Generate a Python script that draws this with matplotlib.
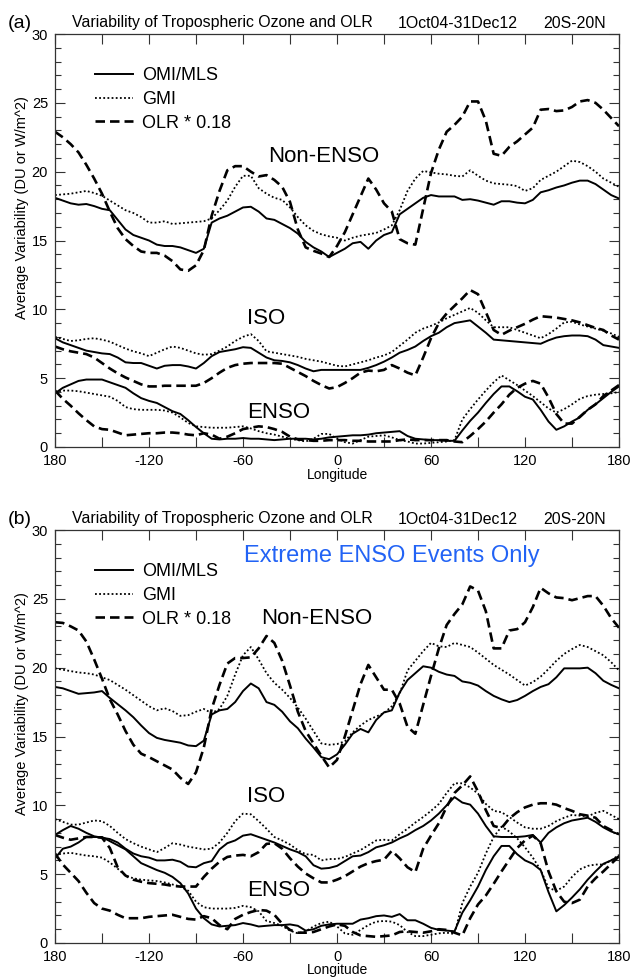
import matplotlib
matplotlib.use("Agg")
import matplotlib.pyplot as plt
import numpy as np

plt.rcParams['font.family'] = ['Liberation Sans', 'DejaVu Sans']

W, H = 635, 977
lon = np.arange(-180, 181, 5)

# ---------------- panel (a): all events ----------------
a_non_omi = [18.1, 17.9, 17.7, 17.6, 17.65, 17.5, 17.3, 17.2, 16.5, 15.8, 15.4, 15.2, 15.0, 14.7, 14.6,
             14.6, 14.5, 14.3, 14.1, 14.4, 16.3, 16.6, 16.8, 17.1, 17.4, 17.45, 17.1, 16.6, 16.5, 16.2,
             15.9, 15.5, 14.9, 14.5, 14.2, 13.8, 14.1, 14.4, 14.8, 14.9, 14.4, 15.0, 15.4, 15.6, 16.9,
             17.3, 17.7, 18.1, 18.3, 18.2, 18.2, 18.2, 17.95, 18.0, 17.9, 17.75, 17.6, 17.85, 17.85, 17.75,
             17.7, 17.95, 18.5, 18.65, 18.85, 19.0, 19.2, 19.35, 19.35, 19.1, 18.7, 18.3, 18.05]
a_non_gmi = [18.3, 18.35, 18.4, 18.5, 18.6, 18.45, 18.25, 17.9, 17.55, 17.2, 17.0, 16.7, 16.3, 16.3, 16.4,
             16.2, 16.25, 16.3, 16.35, 16.4, 16.6, 17.2, 17.9, 18.9, 19.7, 19.7, 18.8, 18.4, 18.1, 17.95,
             17.4, 16.7, 16.1, 15.7, 15.45, 15.3, 15.2, 15.0, 15.2, 15.35, 15.45, 15.55, 15.8, 16.1, 17.2,
             18.6, 19.5, 20.05, 19.95, 19.85, 19.8, 19.7, 19.65, 20.1, 19.7, 19.35, 19.15, 19.1, 19.05, 18.95,
             18.6, 18.8, 19.4, 19.7, 20.0, 20.4, 20.8, 20.7, 20.4, 20.0, 19.5, 19.2, 18.9]
a_non_olr = [22.9, 22.5, 22.0, 21.4, 20.5, 19.5, 18.4, 17.1, 15.9, 15.1, 14.6, 14.2, 14.1, 14.1, 13.9,
             13.5, 12.9, 12.8, 13.2, 14.3, 16.8, 18.6, 20.1, 20.4, 20.4, 20.0, 19.65, 19.75, 19.4, 18.9,
             17.8, 15.8, 14.5, 14.25, 14.05, 13.8, 14.6, 15.6, 16.9, 18.2, 19.5, 18.7, 17.7, 17.1, 15.1,
             14.8, 14.7, 17.3, 19.9, 21.6, 22.9, 23.4, 24.0, 25.1, 25.1, 23.7, 21.3, 21.15, 21.8, 22.2,
             22.7, 23.2, 24.5, 24.55, 24.4, 24.45, 24.7, 25.1, 25.2, 25.0, 24.5, 23.9, 23.3]

a_iso_omi = [7.9, 7.6, 7.4, 7.2, 7.0, 6.9, 6.8, 6.75, 6.5, 6.15, 6.1, 6.1, 5.9, 5.7, 5.9,
             5.95, 5.95, 5.85, 5.7, 6.1, 6.6, 6.9, 7.0, 7.1, 7.25, 7.2, 6.85, 6.5, 6.3, 6.25,
             6.15, 5.95, 5.7, 5.5, 5.6, 5.6, 5.6, 5.6, 5.6, 5.6, 5.75, 5.95, 6.2, 6.5, 6.85,
             7.05, 7.3, 7.7, 8.05, 8.3, 8.7, 9.0, 9.1, 9.2, 8.75, 8.3, 7.8, 7.75, 7.7, 7.65,
             7.6, 7.55, 7.5, 7.75, 7.95, 8.05, 8.1, 8.1, 8.05, 7.8, 7.4, 7.3, 7.2]
a_iso_gmi = [8.0, 7.85, 7.7, 7.75, 7.85, 7.9, 7.8, 7.65, 7.4, 7.15, 6.95, 6.8, 6.6, 6.85, 7.1,
             7.3, 7.2, 7.0, 6.8, 6.7, 6.75, 7.0, 7.3, 7.7, 8.0, 8.2, 7.7, 6.95, 6.85, 6.75,
             6.65, 6.55, 6.4, 6.3, 6.2, 6.05, 5.9, 5.85, 6.0, 6.15, 6.3, 6.5, 6.65, 6.9, 7.35,
             7.8, 8.3, 8.6, 8.8, 9.05, 9.35, 9.6, 9.85, 10.1, 9.75, 9.2, 8.7, 8.7, 8.7, 8.5,
             8.3, 8.1, 7.9, 8.2, 8.6, 9.05, 9.1, 8.9, 8.75, 8.6, 8.45, 8.25, 8.0]
a_iso_olr = [7.3, 7.1, 6.95, 6.85, 6.75, 6.5, 6.1, 5.7, 5.35, 5.05, 4.8, 4.55, 4.4, 4.4, 4.45,
             4.45, 4.45, 4.45, 4.45, 4.65, 5.0, 5.4, 5.75, 5.95, 6.05, 6.1, 6.1, 6.1, 6.1, 6.05,
             5.75, 5.45, 5.15, 4.8, 4.5, 4.25, 4.35, 4.65, 5.0, 5.4, 5.55, 5.5, 5.6, 5.95, 5.7,
             5.4, 5.2, 6.5, 7.9, 9.0, 9.7, 10.25, 10.8, 11.4, 11.1, 9.8, 8.5, 8.15, 8.45, 8.7,
             8.95, 9.25, 9.5, 9.45, 9.4, 9.3, 9.2, 9.05, 8.85, 8.65, 8.5, 8.1, 7.8]

a_enso_omi = [3.9, 4.3, 4.55, 4.8, 4.9, 4.9, 4.9, 4.7, 4.5, 4.3, 3.9, 3.55, 3.35, 3.2, 2.9,
              2.6, 2.4, 1.95, 1.45, 1.0, 0.6, 0.55, 0.6, 0.6, 0.65, 0.6, 0.6, 0.55, 0.5, 0.55,
              0.6, 0.6, 0.6, 0.55, 0.6, 0.7, 0.75, 0.8, 0.85, 0.85, 0.9, 1.0, 1.05, 1.1, 1.15,
              0.8, 0.6, 0.55, 0.5, 0.5, 0.45, 0.45, 1.2, 1.9, 2.5, 3.2, 3.85, 4.4, 4.4, 4.05,
              3.65, 3.45, 2.7, 1.85, 1.25, 1.5, 1.85, 2.15, 2.7, 3.1, 3.55, 4.0, 4.4]
a_enso_gmi = [4.0, 4.1, 4.1, 4.05, 3.95, 3.85, 3.75, 3.65, 3.35, 2.9, 2.75, 2.7, 2.7, 2.7, 2.65,
              2.5, 2.15, 1.75, 1.5, 1.45, 1.4, 1.4, 1.4, 1.45, 1.5, 1.35, 1.15, 1.0, 0.9, 0.75,
              0.6, 0.5, 0.4, 0.6, 0.95, 0.95, 0.6, 0.35, 0.25, 0.5, 0.75, 0.8, 0.85, 0.7, 0.5,
              0.4, 0.25, 0.25, 0.3, 0.35, 0.4, 0.5, 2.0, 2.75, 3.45, 4.1, 4.7, 5.2, 4.85, 4.5,
              4.1, 3.7, 3.25, 2.8, 2.5, 2.75, 3.1, 3.5, 3.7, 3.8, 3.85, 3.9, 4.0]
a_enso_olr = [4.1, 3.5, 3.0, 2.45, 1.95, 1.5, 1.3, 1.25, 1.05, 0.85, 0.9, 0.95, 1.0, 1.0, 1.05,
              1.05, 1.0, 0.9, 0.85, 1.0, 0.9, 0.6, 0.75, 1.0, 1.3, 1.4, 1.5, 1.45, 1.3, 1.1,
              0.75, 0.55, 0.5, 0.45, 0.45, 0.5, 0.5, 0.5, 0.45, 0.45, 0.4, 0.4, 0.4, 0.4, 0.5,
              0.55, 0.5, 0.5, 0.5, 0.5, 0.5, 0.4, 0.35, 0.8, 1.3, 1.85, 2.5, 3.1, 3.8, 4.3,
              4.6, 4.8, 4.6, 3.6, 2.4, 1.7, 1.7, 2.2, 2.7, 3.1, 3.7, 4.1, 4.5]

# ---------------- panel (b): extreme ENSO events only ----------------
b_non_omi = [18.6, 18.5, 18.3, 18.1, 18.15, 18.2, 18.3, 17.8, 17.35, 16.9, 16.4, 15.8, 15.25, 14.9, 14.75,
             14.65, 14.55, 14.35, 14.3, 14.7, 16.6, 16.9, 17.0, 17.5, 18.3, 18.85, 18.5, 17.5, 17.3, 16.8,
             16.1, 15.6, 14.85, 14.2, 13.5, 13.35, 13.7, 14.4, 15.2, 15.55, 15.3, 16.2, 16.75, 16.9, 18.2,
             19.1, 19.6, 20.1, 20.0, 19.7, 19.5, 19.4, 19.0, 18.9, 18.7, 18.3, 17.95, 17.7, 17.5, 17.65,
             17.95, 18.3, 18.6, 18.8, 19.3, 19.95, 19.95, 19.95, 20.0, 19.6, 19.05, 18.75, 18.5]
b_non_gmi = [19.95, 19.85, 19.75, 19.65, 19.6, 19.5, 19.3, 19.1, 18.75, 18.4, 18.0, 17.6, 17.2, 16.9, 17.05,
             16.85, 16.5, 16.55, 16.8, 17.0, 16.7, 17.0, 17.95, 19.5, 20.9, 21.5, 20.6, 19.6, 18.9, 18.4,
             17.8, 17.1, 16.3, 15.4, 14.5, 14.4, 14.45, 14.65, 15.3, 15.8, 16.2, 16.45, 16.7, 17.2, 18.1,
             19.8, 20.5, 21.2, 21.8, 21.55, 21.5, 21.8, 21.65, 21.5, 21.1, 20.65, 20.2, 19.85, 19.5, 19.1,
             18.7, 18.95, 19.35, 19.9, 20.5, 21.0, 21.35, 21.65, 21.5, 21.2, 20.9, 20.4, 19.8]
b_non_olr = [23.3, 23.25, 23.0, 22.7, 21.9, 20.6, 19.2, 17.7, 16.6, 15.4, 14.4, 13.75, 13.5, 13.2, 12.9,
             12.6, 12.0, 11.55, 12.4, 14.2, 17.0, 18.75, 20.3, 20.7, 20.7, 20.75, 21.4, 22.3, 21.8, 20.5,
             18.7, 16.8, 15.4, 14.5, 13.6, 12.75, 13.3, 15.0, 16.9, 18.8, 20.2, 19.3, 18.4, 18.4, 17.4,
             15.7, 15.2, 17.3, 19.4, 21.4, 23.1, 23.9, 24.6, 25.9, 25.6, 24.1, 21.4, 21.4, 22.7, 22.8,
             23.3, 24.4, 25.8, 25.4, 25.1, 25.05, 24.9, 25.05, 25.2, 25.2, 24.5, 23.6, 22.9]

b_iso_omi = [7.85, 8.2, 8.5, 8.3, 8.0, 7.75, 7.65, 7.55, 7.3, 6.85, 6.5, 6.3, 6.2, 6.0, 6.0,
             6.05, 5.9, 5.55, 5.5, 5.8, 5.95, 6.8, 7.25, 7.45, 7.8, 7.9, 7.7, 7.5, 7.3, 7.05,
             6.8, 6.6, 6.3, 5.65, 5.4, 5.45, 5.6, 5.95, 6.3, 6.35, 6.6, 6.95, 7.1, 7.3, 7.6,
             7.85, 8.2, 8.5, 8.9, 9.4, 10.0, 10.6, 10.2, 10.05, 9.4, 8.5, 7.75, 7.7, 7.7, 7.7,
             7.75, 7.85, 7.3, 8.0, 8.4, 8.7, 8.9, 9.0, 9.1, 8.8, 8.4, 8.1, 7.9]
b_iso_gmi = [9.0, 8.8, 8.6, 8.6, 8.75, 8.9, 8.85, 8.5, 8.0, 7.55, 7.25, 7.0, 6.8, 6.6, 6.9,
             7.25, 7.15, 7.0, 6.9, 6.8, 6.85, 7.3, 8.0, 8.85, 9.4, 9.35, 8.85, 8.3, 7.7, 7.45,
             7.15, 6.75, 6.45, 6.4, 6.0, 6.1, 6.1, 6.25, 6.5, 6.75, 7.1, 7.45, 7.5, 7.45, 7.9,
             8.3, 8.75, 9.15, 9.6, 10.1, 10.9, 11.6, 11.6, 11.3, 10.85, 10.1, 9.6, 9.5, 9.15, 8.75,
             8.4, 8.3, 8.3, 8.5, 8.85, 9.1, 9.3, 9.25, 9.2, 9.45, 9.6, 9.3, 9.0]
b_iso_olr = [7.85, 7.65, 7.5, 7.6, 7.7, 7.7, 7.65, 6.9, 5.5, 4.9, 4.6, 4.45, 4.35, 4.3, 4.25,
             4.15, 4.1, 4.1, 4.1, 4.8, 5.4, 5.9, 6.25, 6.35, 6.4, 6.3, 6.6, 7.2, 7.25, 6.85,
             6.15, 5.55, 5.05, 4.7, 4.4, 4.4, 4.6, 4.85, 5.2, 5.55, 5.8, 5.95, 6.05, 6.7, 6.15,
             5.5, 5.15, 6.85, 7.8, 8.7, 9.9, 10.9, 11.45, 12.1, 11.0, 9.65, 8.5, 8.35, 9.05, 9.5,
             9.85, 10.05, 10.15, 10.15, 10.05, 9.8, 9.6, 9.35, 9.25, 9.1, 8.5, 8.2, 7.9]

b_enso_omi = [6.15, 6.85, 7.0, 7.3, 7.7, 7.7, 7.7, 7.4, 7.1, 6.8, 6.3, 5.8, 5.55, 5.3, 5.1,
              4.8, 4.35, 3.6, 2.5, 1.8, 1.35, 1.2, 1.25, 1.3, 1.45, 1.35, 1.2, 1.25, 1.3, 1.3,
              1.35, 1.25, 0.9, 1.0, 1.25, 1.35, 1.4, 1.4, 1.4, 1.7, 1.8, 1.95, 2.0, 1.9, 2.1,
              1.65, 1.65, 1.4, 1.1, 0.95, 0.9, 0.85, 2.2, 3.1, 4.1, 5.3, 6.3, 7.05, 7.05, 6.45,
              6.0, 5.75, 5.3, 3.7, 2.3, 2.75, 3.3, 3.9, 4.6, 5.2, 5.75, 6.0, 6.3]
b_enso_gmi = [6.4, 6.5, 6.55, 6.45, 6.35, 6.3, 6.2, 5.85, 5.4, 4.9, 4.7, 4.6, 4.55, 4.5, 4.4,
              4.25, 4.1, 3.8, 3.0, 2.6, 2.5, 2.5, 2.5, 2.55, 2.7, 2.6, 2.3, 1.6, 1.45, 1.25,
              0.9, 0.7, 0.85, 1.2, 1.45, 1.55, 1.2, 0.7, 0.6, 0.95, 1.3, 1.55, 1.6, 1.55, 1.3,
              0.8, 0.5, 0.5, 0.6, 0.7, 0.75, 0.65, 2.9, 4.1, 5.1, 6.5, 7.7, 8.45, 8.1, 7.6,
              6.95, 6.2, 5.3, 4.0, 3.8, 4.1, 4.8, 5.35, 5.6, 5.7, 5.7, 6.0, 6.4]
b_enso_olr = [6.5, 5.7, 5.1, 4.5, 3.65, 2.9, 2.5, 2.35, 2.05, 1.8, 1.8, 1.8, 1.9, 1.95, 2.0,
              2.05, 1.9, 1.75, 1.7, 1.95, 1.8, 1.3, 1.0, 1.75, 2.05, 2.25, 2.4, 2.35, 2.05, 1.4,
              0.95, 0.75, 0.75, 0.8, 1.0, 1.2, 1.35, 1.25, 0.8, 0.55, 0.5, 0.45, 0.5, 0.55, 0.8,
              0.85, 0.8, 0.75, 0.85, 1.0, 0.95, 0.75, 0.55, 1.8, 2.8, 3.45, 4.3, 5.2, 6.05, 6.9,
              7.45, 7.8, 7.25, 5.2, 3.75, 3.0, 2.9, 3.15, 4.1, 4.7, 5.2, 5.75, 6.3]

series_names = ['OMI/MLS', 'GMI', 'OLR * 0.18']
xticks = np.arange(-180, 181, 30)
xlabels = ['180', '', '-120', '', '-60', '', '0', '', '60', '', '120', '', '180']

panels = [
    ('(a)', 447, [(a_non_omi, a_non_gmi, a_non_olr), (a_iso_omi, a_iso_gmi, a_iso_olr),
                  (a_enso_omi, a_enso_gmi, a_enso_olr)],
     [(268, 156), (247, 318), (247, 412)], False),
    ('(b)', 943, [(b_non_omi, b_non_gmi, b_non_olr), (b_iso_omi, b_iso_gmi, b_iso_olr),
                  (b_enso_omi, b_enso_gmi, b_enso_olr)],
     [(261, 619), (247, 797), (247, 891)], True),
]
cat_names = ['Non-ENSO', 'ISO', 'ENSO']

styles = [dict(color='black', lw=1.4, ls='-'),
          dict(color='black', lw=1.3, ls=(0, (1, 1.3))),
          dict(color='black', lw=1.9, ls=(0, (3.6, 1.9)))]

fig = plt.figure(figsize=(W / 100, H / 100), dpi=100)


def fx(px):
    return px / W


def fy(py):
    return 1 - py / H


for tag, bottom, groups, label_pos, extreme in panels:
    ax = fig.add_axes([fx(55), fy(bottom), fx(564), 413 / H])
    for grp in groups:
        for vals, st, name in zip(grp, styles, series_names):
            ax.plot(lon, vals, **st, label=name)
    ax.set_xlim(-180, 180)
    ax.set_ylim(0, 30)
    ax.set_xticks(xticks)
    ax.set_xticklabels(xlabels)
    ax.set_yticks(np.arange(0, 31, 5))
    ax.set_yticks(np.arange(0, 31, 1), minor=True)
    ax.tick_params(axis='both', which='major', direction='in', top=True, right=True,
                   length=7, width=0.8, labelsize=10.5, color='#333333')
    ax.tick_params(axis='x', which='major', pad=5)
    ax.tick_params(axis='y', which='major', pad=5)
    ax.tick_params(axis='y', which='minor', direction='in', right=True, length=4, width=0.8,
                   color='#333333')
    for sp in ax.spines.values():
        sp.set_linewidth(0.9)
        sp.set_color('#333333')

    handles = ax.get_lines()[:3]
    ax.legend(handles, series_names, loc='upper left', bbox_to_anchor=(40 / 564, 0.92),
              frameon=False, fontsize=13, handlelength=2.1, handletextpad=0.5,
              labelspacing=0.38, borderpad=0, borderaxespad=0)

    for name, (px, py) in zip(cat_names, label_pos):
        fig.text(fx(px), fy(py), name, fontsize=16, ha='left', va='center')

    top = bottom - 413
    fig.text(fx(8), fy(top - 11), tag, fontsize=14, ha='left', va='center')
    fig.text(fx(72), fy(top - 11), 'Variability of Tropospheric Ozone and OLR', fontsize=11.4,
             ha='left', va='center')
    fig.text(fx(398), fy(top - 11), '1Oct04-31Dec12', fontsize=11.4, ha='left', va='center')
    fig.text(fx(543), fy(top - 11), '20S-20N', fontsize=11.4, ha='left', va='center')
    fig.text(fx(22), fy(top + 174), 'Average Variability (DU or W/m^2)', fontsize=10.5,
             rotation=90, ha='center', va='center')
    fig.text(fx(337), fy(min(bottom + 35, H)), 'Longitude', fontsize=10, ha='center',
             va='bottom')
    if extreme:
        fig.text(fx(244), fy(556), 'Extreme ENSO Events Only', fontsize=17, color='#2263f5',
                 ha='left', va='center')

fig.savefig('out.png', dpi=100)
